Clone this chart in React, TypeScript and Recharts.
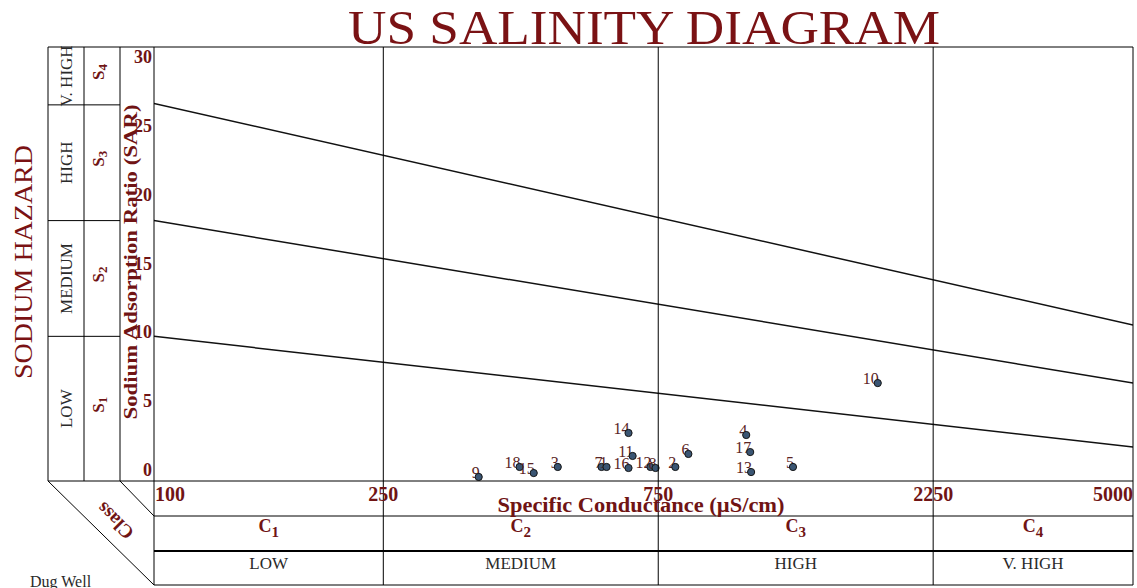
import React from "react";
import { ComposedChart, XAxis, YAxis, Line, Scatter, ReferenceDot } from "recharts";

// ---- data ----
const sampleIds = ["9", "18", "15", "3", "7", "1", "16", "11", "14", "12", "8", "2", "6", "4", "17", "13", "5", "10"];
const ecValues = [366, 431, 456, 502, 598, 610, 666, 677, 666, 727, 742, 803, 846, 1066, 1083, 1087, 1285, 1803];
const sarValues = [0.28, 0.97, 0.55, 0.97, 0.97, 0.97, 0.9, 1.73, 3.32, 0.97, 0.9, 0.97, 1.87, 3.18, 2.0, 0.62, 0.97, 6.77];

const xTicks = [100, 250, 750, 2250, 5000];
const yTicks = [0, 5, 10, 15, 20, 25, 30];
const classCenters = [158.1, 433, 1299, 3354];
const classSubs = ["1", "2", "3", "4"];
const salinityHazard = ["LOW", "MEDIUM", "HIGH", "V. HIGH"];
const sodiumBounds = [10, 18, 26];
const sodiumCenters = [5, 14, 22, 28];
const sodiumSubs = ["1", "2", "3", "4"];
const sodiumHazard = ["LOW", "MEDIUM", "HIGH", "V. HIGH"];

const lineEC = [100, 5000];
const s1s2Line = [10, 2.35];
const s2s3Line = [18, 6.77];
const s3s4Line = [26.1, 10.78];

// ---- derived ----
const points = sampleIds.map((id, i) => ({ id, ec: ecValues[i], sar: sarValues[i] }));
const mkLine = (vals: number[]) => lineEC.map((ec, i) => ({ ec, sar: vals[i] }));
const lineA = mkLine(s1s2Line);
const lineB = mkLine(s2s3Line);
const lineC = mkLine(s3s4Line);

const SERIF = "'Liberation Serif', 'Times New Roman', serif";
const RED = "#701414";
const TITLE_RED = "#7a1214";
const INK = "#2a2a2a";

const EcTick = (props: any) => {
  const { x, payload } = props;
  const v = payload.value;
  const first = v === xTicks[0];
  const last = v === xTicks[xTicks.length - 1];
  const anchor = first ? "start" : last ? "end" : "middle";
  return (
    <g>
      <line x1={x} x2={x} y1={47} y2={585} stroke="#000" strokeWidth={1} />
      <text x={first ? x + 1 : x} y={501} textAnchor={anchor} fontFamily={SERIF} fontWeight="bold" fontSize={20} fill={RED}>
        {v}
      </text>
    </g>
  );
};

const SarTick = (props: any) => {
  const { y, payload } = props;
  const ly = 470 + (y - 481) * (413 / 434) + 6;
  return (
    <text x={152} y={ly} textAnchor="end" fontFamily={SERIF} fontWeight="bold" fontSize={18} fill={RED}>
      {payload.value}
    </text>
  );
};

const ClassLabel = ({ cx, index }: { cx: number; index: number }) => (
  <g>
    <text x={cx} y={532} textAnchor="middle" fontFamily={SERIF} fontWeight="bold" fontSize={18} fill={RED}>
      C<tspan dy={5} fontSize={15}>{classSubs[index]}</tspan>
    </text>
    <text x={cx} y={569} textAnchor="middle" fontFamily={SERIF} fontSize={17} fill={INK}>
      {salinityHazard[index]}
    </text>
  </g>
);

const BoundLine = ({ cy }: { cy: number }) => <line x1={48} x2={120} y1={cy} y2={cy} stroke="#000" strokeWidth={1} />;

const SodiumLabel = ({ cy, index }: { cy: number; index: number }) => (
  <g>
    <text transform={`translate(66,${cy}) rotate(-90)`} textAnchor="middle" dominantBaseline="central" fontFamily={SERIF} fontSize={17} fill={INK}>
      {sodiumHazard[index]}
    </text>
    <text transform={`translate(98,${cy - 4}) rotate(-90)`} textAnchor="middle" dominantBaseline="central" fontFamily={SERIF} fontWeight="bold" fontSize={17} fill={RED}>
      S<tspan dy={4} fontSize={13}>{sodiumSubs[index]}</tspan>
    </text>
  </g>
);

const PointShape = (props: any) => {
  const { cx, cy, payload } = props;
  if (cx == null || cy == null) return null;
  return (
    <g>
      <text x={cx + 1} y={cy + 1} textAnchor="end" fontFamily={SERIF} fontSize={16} fill="#5a2424">
        {payload.id}
      </text>
      <circle cx={cx} cy={cy} r={3.6} fill="#3a5573" stroke="#151515" strokeWidth={1} />
    </g>
  );
};

export default function App() {
  return (
    <div style={{ position: "absolute", left: 0, top: 0, width: 1137, height: 588, background: "#fff", overflow: "hidden" }}>
      <ComposedChart width={1137} height={588} margin={{ top: 47, right: 4, bottom: 72, left: 120 }}>
        <XAxis
          xAxisId="ec"
          dataKey="ec"
          type="number"
          scale="log"
          domain={[100, 5000]}
          allowDataOverflow
          ticks={xTicks}
          interval={0}
          height={35}
          axisLine={false}
          tickLine={false}
          tick={<EcTick />}
        />
        <YAxis
          yAxisId="sar"
          dataKey="sar"
          type="number"
          domain={[0, 30]}
          allowDataOverflow
          ticks={yTicks}
          interval={0}
          width={34}
          axisLine={false}
          tickLine={false}
          tick={<SarTick />}
        />
        <Line xAxisId="ec" yAxisId="sar" data={lineA} dataKey="sar" stroke="#111" strokeWidth={1.5} dot={false} isAnimationActive={false} />
        <Line xAxisId="ec" yAxisId="sar" data={lineB} dataKey="sar" stroke="#111" strokeWidth={1.5} dot={false} isAnimationActive={false} />
        <Line xAxisId="ec" yAxisId="sar" data={lineC} dataKey="sar" stroke="#111" strokeWidth={1.5} dot={false} isAnimationActive={false} />
        <Scatter xAxisId="ec" yAxisId="sar" data={points} dataKey="sar" shape={<PointShape />} isAnimationActive={false} />
        {classCenters.map((c, i) => (
          <ReferenceDot
            key={`cls${i}`}
            xAxisId="ec"
            yAxisId="sar"
            x={c}
            y={0}
            r={0}
            ifOverflow="visible"
            shape={(p: any) => <ClassLabel cx={p.cx} index={i} />}
          />
        ))}
        {sodiumBounds.map((b, i) => (
          <ReferenceDot
            key={`sb${i}`}
            xAxisId="ec"
            yAxisId="sar"
            x={xTicks[0]}
            y={b}
            r={0}
            ifOverflow="visible"
            shape={(p: any) => <BoundLine cy={p.cy} />}
          />
        ))}
        {sodiumCenters.map((c, i) => (
          <ReferenceDot
            key={`sl${i}`}
            xAxisId="ec"
            yAxisId="sar"
            x={xTicks[0]}
            y={c}
            r={0}
            ifOverflow="visible"
            shape={(p: any) => <SodiumLabel cy={p.cy} index={i} />}
          />
        ))}
      </ComposedChart>
      <svg width={1137} height={588} style={{ position: "absolute", left: 0, top: 0, pointerEvents: "none" }}>
        <text x={644} y={44} textAnchor="middle" fontFamily={SERIF} fontSize={48} fill={TITLE_RED} textLength={592} lengthAdjust="spacingAndGlyphs">
          US SALINITY DIAGRAM
        </text>
        {/* frame and table lines */}
        <line x1={48} x2={1133} y1={47} y2={47} stroke="#000" />
        <line x1={48} x2={1133} y1={481} y2={481} stroke="#000" />
        <line x1={154} x2={1133} y1={516} y2={516} stroke="#000" />
        <line x1={154} x2={1133} y1={551} y2={551} stroke="#000" strokeWidth={2} />
        <line x1={154} x2={1133} y1={585} y2={585} stroke="#000" />
        <line x1={48} x2={48} y1={47} y2={481} stroke="#000" />
        <line x1={84} x2={84} y1={47} y2={481} stroke="#000" />
        <line x1={120} x2={120} y1={47} y2={481} stroke="#000" />
        <line x1={48} x2={154} y1={481} y2={585} stroke="#000" />
        <line x1={120} x2={154} y1={481} y2={516} stroke="#000" />
        <text transform="translate(23,262) rotate(-90)" textAnchor="middle" dominantBaseline="central" fontFamily={SERIF} fontSize={26} fill={TITLE_RED} textLength={234} lengthAdjust="spacingAndGlyphs">
          SODIUM HAZARD
        </text>
        <text transform="translate(131,262) rotate(-90)" textAnchor="middle" dominantBaseline="central" fontFamily={SERIF} fontWeight="bold" fontSize={18} fill={RED} textLength={315} lengthAdjust="spacingAndGlyphs">
          Sodium Adsorption Ratio (SAR)
        </text>
        <text x={641} y={512} textAnchor="middle" fontFamily={SERIF} fontWeight="bold" fontSize={20} fill={RED} textLength={287} lengthAdjust="spacingAndGlyphs">
          Specific Conductance (µS/cm)
        </text>
        <text transform="translate(115,521) rotate(-135)" textAnchor="middle" dominantBaseline="central" fontFamily={SERIF} fontWeight="bold" fontSize={19} fill={RED}>
          Class
        </text>
        <text x={30} y={587} fontFamily={SERIF} fontSize={16} fill={INK}>
          Dug Well
        </text>
      </svg>
    </div>
  );
}
